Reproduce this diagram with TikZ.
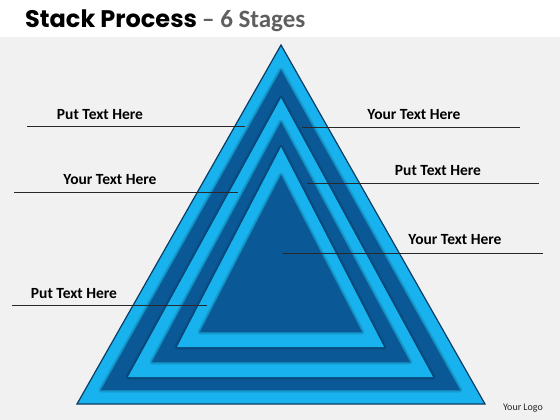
\documentclass[tikz,border=0pt]{standalone}
\usepackage{fontspec}
\setmainfont{Carlito}
\newfontfamily\headfont{Poppins}
\usepackage{tikz}
\usetikzlibrary{calc}
\definecolor{skyband}{RGB}{24,178,238}
\definecolor{navyband}{RGB}{10,88,150}
\definecolor{rimline}{RGB}{12,60,100}
\definecolor{paper}{RGB}{241,241,241}
\definecolor{rulegray}{RGB}{40,40,40}
\definecolor{subgray}{RGB}{95,95,95}
% one layer of the stack: shadow first, then the fill
\def\stacklayer[#1](#2:#3:#4:#5){%
  \draw[black, opacity=0.10, line width=5pt, line join=round] (281,#2) -- (#4,#3) -- (#5,#3) -- cycle;
  \draw[black, opacity=0.12, line width=2.5pt, line join=round] (281,#2) -- (#4,#3) -- (#5,#3) -- cycle;
  \fill[#1] (281,#2) -- (#4,#3) -- (#5,#3) -- cycle;}
\tikzset{
  label text/.style={font=\bfseries\fontsize{15.5}{17}\selectfont, text=black, inner sep=0pt},
  guide/.style={draw=rulegray, line width=0.8pt}
}

\begin{document}
\begin{tikzpicture}[x=1pt, y=-1pt]
			%%%%% START %%%%%
			\useasboundingbox (0,0) rectangle (560,420);
			\fill[paper] (0,37) rectangle (560,420);
			\fill[white] (0,0) rectangle (560,37);
			
			\node[anchor=base west, inner sep=0pt] (title) at (25,28)
			  {\headfont\bfseries\fontsize{24}{26}\selectfont Stack Process
			   {\normalfont\bfseries\color{subgray}\fontsize{25}{26}\selectfont – 6 Stages}};
			
			% outer rim
			\draw[rimline, line width=1.2pt, fill=skyband, line join=miter] (281,45) -- (77,404) -- (485,404) -- cycle;
			\stacklayer[navyband](70:390:101:460)
			\stacklayer[skyband](98:377:128:433)
			\stacklayer[navyband](122:362:152:410)
			\stacklayer[skyband](147:347:177:384)
			\stacklayer[navyband](175:332:200:362)
			
			% left labels
			\node[label text] (lt1) at (100,115) {Put Text Here};
			\coordinate (lt1a) at (27,126);
			\coordinate (lt1b) at (245,126);
			\draw[guide] (lt1a) -- (lt1b);
			
			\node[label text] (lt2) at (110,180) {Your Text Here};
			\coordinate (lt2a) at (14,192);
			\coordinate (lt2b) at (238,192);
			\draw[guide] (lt2a) -- (lt2b);
			
			\node[label text] (lt3) at (74,294) {Put Text Here};
			\coordinate (lt3a) at (12,305);
			\coordinate (lt3b) at (207,305);
			\draw[guide] (lt3a) -- (lt3b);
			
			% right labels
			\node[label text] (rt1) at (414,115) {Your Text Here};
			\coordinate (rt1a) at (302,127);
			\coordinate (rt1b) at (520,127);
			\draw[guide] (rt1a) -- (rt1b);
			
			\node[label text] (rt2) at (438,171) {Put Text Here};
			\coordinate (rt2a) at (307,183);
			\coordinate (rt2b) at (539,183);
			\draw[guide] (rt2a) -- (rt2b);
			
			\node[label text] (rt3) at (455,240) {Your Text Here};
			\coordinate (rt3a) at (283,253);
			\coordinate (rt3b) at (543,253);
			\draw[guide] (rt3a) -- (rt3b);
			
			\node[font=\fontsize{10}{12}\selectfont, text=black!85, inner sep=0pt] (logo) at (523,408) {Your Logo};
			%%%%% END %%%%%
\end{tikzpicture}
\end{document}
